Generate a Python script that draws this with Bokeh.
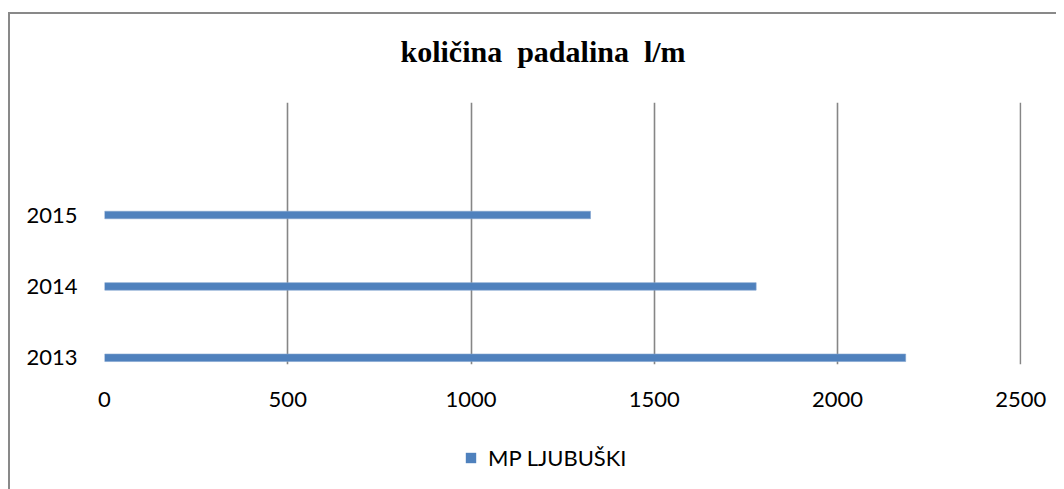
from bokeh.plotting import figure
from bokeh.layouts import column
from bokeh.models import Range1d, FixedTicker, Legend, LegendItem, ColumnDataSource
from bokeh.embed import file_html
from bokeh.resources import INLINE

# ---- data ----
years = ["2013", "2014", "2015"]
year_pos = [0, 1, 2]
rainfall = [2186, 1778, 1326]
series_name = "MP LJUBUŠKI"
x_ticks = [0, 500, 1000, 1500, 2000, 2500]
title_text = "količina \u00a0padalina \u00a0l/m"
bar_color = "#4F81BD"

src = ColumnDataSource(dict(y=year_pos, right=rainfall, label=years))

p = figure(width=1046, height=410, output_backend="svg", toolbar_location=None,
           x_range=Range1d(0, 2502), y_range=Range1d(-0.094, 3.576),
           min_border_left=94, min_border_right=35, min_border_top=88,
           min_border_bottom=60)
p.outline_line_color = None
p.background_fill_color = "white"
p.border_fill_color = "white"

r = p.hbar(y="y", left=0, right="right", height=0.105, source=src,
           fill_color=bar_color, line_color="#7FA3CF", line_width=0.6)

# title
p.title.text = title_text
p.title.text_font = "Liberation Serif"
p.title.text_font_style = "bold"
p.title.text_font_size = "30px"
p.title.text_color = "black"
p.title.align = "left"
p.title.offset = 296
p.title.standoff = 0
p.title.padding = (0, 0, 0, 35)

# x axis
p.xaxis.ticker = FixedTicker(ticks=x_ticks)
p.xaxis.axis_line_color = None
p.xaxis.major_tick_line_color = None
p.xaxis.minor_tick_line_color = None
p.xaxis.major_tick_out = 0
p.xaxis.major_tick_in = 0
p.xaxis.major_label_standoff = 27
p.xaxis.major_label_text_font = "Lato"
p.xaxis.major_label_text_font_size = "22px"
p.xaxis.major_label_text_color = "black"

# y axis
p.yaxis.ticker = FixedTicker(ticks=year_pos)
p.yaxis.major_label_overrides = {pos: lab for pos, lab in zip(year_pos, years)}
p.yaxis.axis_line_color = None
p.yaxis.major_tick_line_color = None
p.yaxis.minor_tick_line_color = None
p.yaxis.major_tick_out = 0
p.yaxis.major_tick_in = 0
p.yaxis.major_label_standoff = 27
p.yaxis.major_label_text_font = "Lato"
p.yaxis.major_label_text_font_size = "22px"
p.yaxis.major_label_text_color = "black"

# grid
p.xgrid.ticker = FixedTicker(ticks=x_ticks)
p.xgrid.grid_line_color = "#868686"
p.xgrid.grid_line_width = 1.6
p.ygrid.grid_line_color = None

# legend strip (separate small figure holding only the legend)
p2 = figure(width=1046, height=65, output_backend="svg", toolbar_location=None,
            x_range=Range1d(0, 1), y_range=Range1d(10, 11),
            min_border_left=0, min_border_right=0, min_border_top=0,
            min_border_bottom=0)
p2.axis.visible = False
p2.grid.visible = False
p2.outline_line_color = None
p2.background_fill_color = "white"
p2.border_fill_color = "white"
# same series, outside this strip's visible range: only supplies the legend swatch
proxy = p2.hbar(y="y", left=0, right="right", height=0.105, source=src,
                fill_color=bar_color, line_color=None)
legend = Legend(items=[LegendItem(label=series_name, renderers=[proxy])],
                location=(360, 18), orientation="horizontal",
                glyph_width=13, glyph_height=13, label_standoff=11,
                label_text_font="Lato", label_text_font_size="22px",
                label_text_color="black", border_line_color=None,
                background_fill_alpha=0, padding=0, margin=0, spacing=0)
p2.add_layout(legend, "center")

layout = column(p, p2, spacing=0,
                styles={"border-top": "2px solid #898989",
                        "border-left": "2px solid #898989",
                        "margin-top": "12px", "margin-left": "8px"})

open("out.html", "w").write(file_html(layout, INLINE))
